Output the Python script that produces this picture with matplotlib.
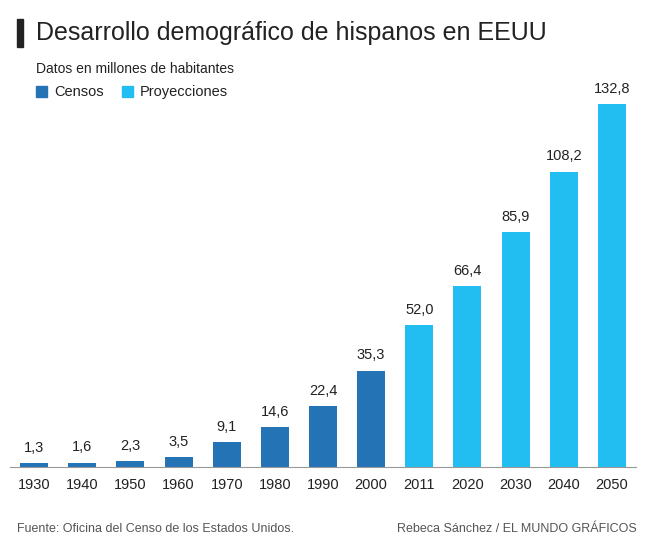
import matplotlib.pyplot as plt
from matplotlib.patches import Rectangle

years = ["1930", "1940", "1950", "1960", "1970", "1980", "1990", "2000",
         "2011", "2020", "2030", "2040", "2050"]
values = [1.3, 1.6, 2.3, 3.5, 9.1, 14.6, 22.4, 35.3, 52.0, 66.4, 85.9, 108.2, 132.8]
is_census = [True] * 8 + [False] * 5

dark = "#2474b5"
light = "#22bef2"

plt.rcParams["font.family"] = ["Liberation Sans", "DejaVu Sans"]
fig = plt.figure(figsize=(6.6, 5.43), dpi=100)
ax = fig.add_axes([10 / 660, 1 - 467 / 543, 626 / 660, 387 / 543])

x = range(len(years))
colors = [dark if c else light for c in is_census]
ax.bar(x, values, width=0.58, color=colors)
for xi, v in zip(x, values):
    ax.text(xi, v + 3, f"{v:.1f}".replace(".", ","), ha="center", va="bottom",
            fontsize=10.5, color="#222222")

ax.set_xlim(-0.5, len(years) - 0.5)
ax.set_ylim(0, 387 / 2.73)
ax.set_xticks(list(x), years)
ax.tick_params(axis="x", length=0, pad=8, labelsize=10.5, colors="#222222")
ax.set_yticks([])
for s in ["top", "right", "left"]:
    ax.spines[s].set_visible(False)
ax.spines["bottom"].set_color("#999999")

fig.patches.append(Rectangle((17 / 660, 1 - 47 / 543), 6 / 660, 28 / 543,
                             transform=fig.transFigure, color="#222222"))
fig.text(36 / 660, 1 - 33 / 543, "Desarrollo demográfico de hispanos en EEUU",
         fontsize=18, va="center", color="#222222")
fig.text(36 / 660, 1 - 69 / 543, "Datos en millones de habitantes",
         fontsize=10, va="center", color="#222222")
fig.patches.append(Rectangle((36 / 660, 1 - 97 / 543), 11 / 660, 11 / 543,
                             transform=fig.transFigure, color=dark))
fig.text(54 / 660, 1 - 92 / 543, "Censos", fontsize=10.5, va="center", color="#222222")
fig.patches.append(Rectangle((122 / 660, 1 - 97 / 543), 11 / 660, 11 / 543,
                             transform=fig.transFigure, color=light))
fig.text(140 / 660, 1 - 92 / 543, "Proyecciones", fontsize=10.5, va="center", color="#222222")

fig.text(17 / 660, 1 - 529 / 543, "Fuente: Oficina del Censo de los Estados Unidos.",
         fontsize=9, va="center", color="#555555")
fig.text(637 / 660, 1 - 529 / 543, "Rebeca Sánchez / EL MUNDO GRÁFICOS",
         fontsize=9, va="center", ha="right", color="#555555")

fig.savefig("out.png", dpi=100)
